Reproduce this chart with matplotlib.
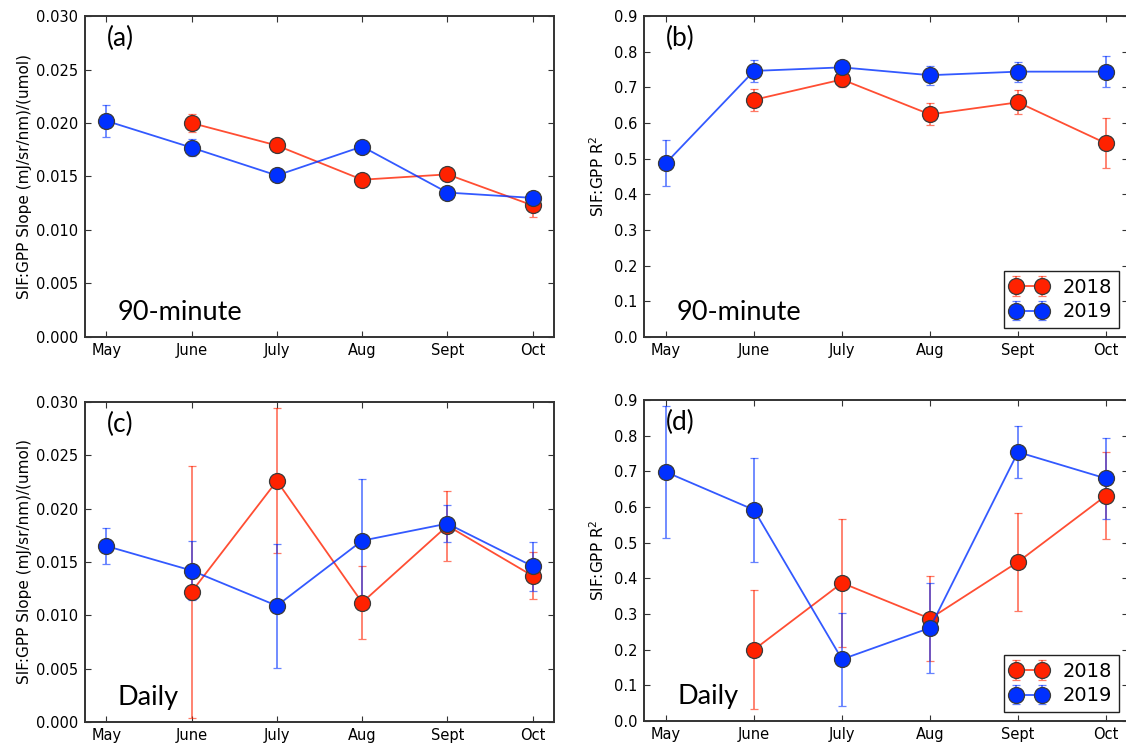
import numpy as np
import matplotlib
matplotlib.use("Agg")
import matplotlib.pyplot as plt
from matplotlib.colors import to_rgba

nan = np.nan

months = ["May", "June", "July", "Aug", "Sept", "Oct"]

# 90-minute SIF:GPP slope
slope90_2018 = [nan, 0.0200, 0.0179, 0.0147, 0.0152, 0.0123]
slope90_2018_err = [nan, 0.0008, 0.0005, 0.0004, 0.0005, 0.0011]
slope90_2019 = [0.0202, 0.0177, 0.0151, 0.0178, 0.0135, 0.0130]
slope90_2019_err = [0.0015, 0.0008, 0.0005, 0.0004, 0.0004, 0.0005]

# 90-minute SIF:GPP R^2
r2_90_2018 = [nan, 0.665, 0.722, 0.624, 0.658, 0.543]
r2_90_2018_err = [nan, 0.031, 0.020, 0.031, 0.034, 0.070]
r2_90_2019 = [0.488, 0.746, 0.756, 0.734, 0.744, 0.744]
r2_90_2019_err = [0.065, 0.031, 0.015, 0.027, 0.028, 0.043]

# Daily SIF:GPP slope
slope_d_2018 = [nan, 0.0122, 0.0226, 0.0112, 0.0184, 0.0137]
slope_d_2018_err = [nan, 0.0118, 0.0068, 0.0034, 0.0033, 0.0022]
slope_d_2019 = [0.0165, 0.0142, 0.0109, 0.0170, 0.0186, 0.0146]
slope_d_2019_err = [0.0017, 0.0028, 0.0058, 0.0058, 0.0017, 0.0023]

# Daily SIF:GPP R^2
r2_d_2018 = [nan, 0.200, 0.387, 0.287, 0.446, 0.632]
r2_d_2018_err = [nan, 0.167, 0.180, 0.120, 0.137, 0.123]
r2_d_2019 = [0.698, 0.592, 0.173, 0.261, 0.754, 0.680]
r2_d_2019_err = [0.185, 0.145, 0.130, 0.127, 0.074, 0.114]

years = ["2018", "2019"]

RED = "#ff2200"
BLUE = "#0030ff"
SPINE = "#333333"
LABEL_FONT = ["Lato", "DejaVu Sans"]

plt.rcParams["font.family"] = ["DejaVu Sans"]

W, H = 1126, 744
fig = plt.figure(figsize=(W / 100, H / 100), dpi=100)


def px_axes(left, top, right, bottom):
    return fig.add_axes([left / W, 1 - bottom / H, (right - left) / W, (bottom - top) / H])


ax_a = px_axes(85, 16, 554, 337)
ax_b = px_axes(644, 16, 1128, 337)
ax_c = px_axes(85, 402, 554, 722)
ax_d = px_axes(644, 400, 1128, 721)

x = np.arange(len(months))


def draw(ax, s18, e18, s19, e19):
    handles = []
    for vals, errs, col, lab in ((s18, e18, RED, years[0]), (s19, e19, BLUE, years[1])):
        h = ax.errorbar(
            x, vals, yerr=errs, color=to_rgba(col, 0.8), ecolor=to_rgba(col, 0.6),
            elinewidth=1.3, capsize=3, capthick=1.2, lw=1.3, marker="o", ms=11.5,
            mfc=col, mec="#3a3a3a", mew=0.9, label=lab,
        )
        handles.append(h)
    ax.set_xlim(-0.25, 5.25)
    ax.set_xticks(x)
    ax.set_xticklabels(months)
    ax.tick_params(direction="in", top=True, right=True, length=4, width=0.8,
                   colors=SPINE, labelcolor="black", labelsize=10.5)
    ax.tick_params(axis="x", pad=4)
    ax.tick_params(axis="y", pad=5)
    for sp in ax.spines.values():
        sp.set_color(SPINE)
        sp.set_linewidth(1.4)
    return handles


draw(ax_a, slope90_2018, slope90_2018_err, slope90_2019, slope90_2019_err)
hb = draw(ax_b, r2_90_2018, r2_90_2018_err, r2_90_2019, r2_90_2019_err)
draw(ax_c, slope_d_2018, slope_d_2018_err, slope_d_2019, slope_d_2019_err)
hd = draw(ax_d, r2_d_2018, r2_d_2018_err, r2_d_2019, r2_d_2019_err)

for ax in (ax_a, ax_c):
    ax.set_ylim(0, 0.030)
    ax.set_yticks(np.arange(0, 0.0301, 0.005))
    ax.yaxis.set_major_formatter(matplotlib.ticker.FormatStrFormatter("%.3f"))
    ax.set_ylabel("SIF:GPP Slope (mJ/sr/nm)/(umol)", fontsize=11, labelpad=3)

for ax in (ax_b, ax_d):
    ax.set_ylim(0, 0.9)
    ax.set_yticks(np.arange(0, 0.901, 0.1))
    ax.yaxis.set_major_formatter(matplotlib.ticker.FormatStrFormatter("%.1f"))
    ax.set_ylabel("SIF:GPP R$^2$", fontsize=11, labelpad=5)

for ax, hs in ((ax_b, hb), (ax_d, hd)):
    leg = ax.legend(hs, years, loc="lower right", fontsize=14, numpoints=2,
                    fancybox=False, framealpha=1, edgecolor="#222222",
                    borderaxespad=0.45, handletextpad=0.8, borderpad=0.35,
                    labelspacing=0.3, handlelength=1.9)
    leg.get_frame().set_linewidth(1.0)

panel_labels = [(ax_a, "(a)", "90-minute"), (ax_b, "(b)", "90-minute"),
                (ax_c, "(c)", "Daily"), (ax_d, "(d)", "Daily")]
for ax, tag, period in panel_labels:
    bbox = ax.get_position()
    wpx = bbox.width * W
    hpx = bbox.height * H
    ax.text(22 / wpx, 1 - 22 / hpx, tag, transform=ax.transAxes, fontsize=19,
            family=LABEL_FONT, va="center", ha="left")
    ax.text(33 / wpx, 17 / hpx, period, transform=ax.transAxes, fontsize=19.5,
            family=LABEL_FONT, va="baseline", ha="left")

fig.savefig("out.png", dpi=100)
